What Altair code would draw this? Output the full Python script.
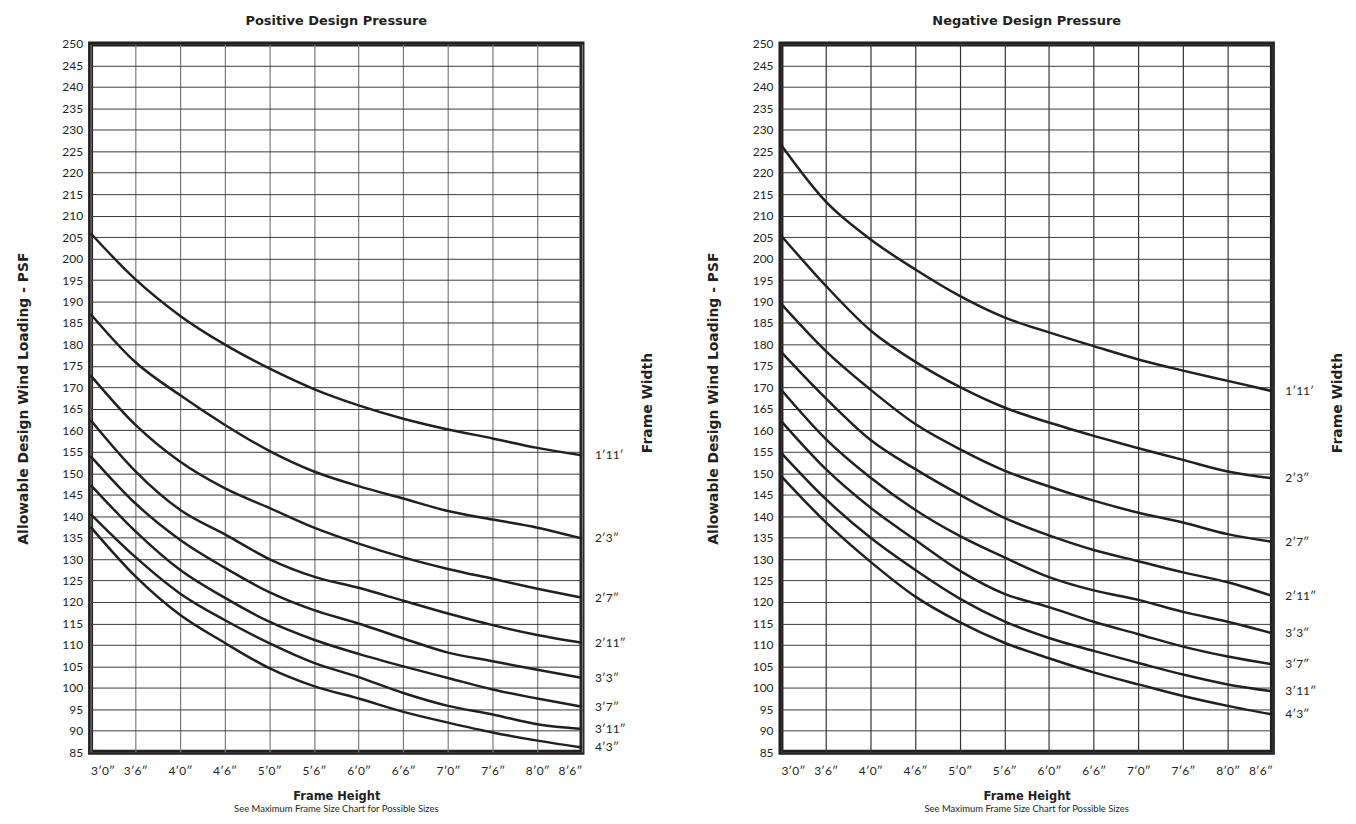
import altair as alt
import pandas as pd

# ---------------- data ----------------
heights_in = [36, 42, 48, 54, 60, 66, 72, 78, 84, 90, 96, 102]  # frame height in inches (3'0" .. 8'6")
width_labels = ["1′11′", "2′3″", "2′7″", "2′11″", "3′3″", "3′7″", "3′11″", "4′3″"]

# Positive design pressure (PSF) per frame width
pos_1 = [205.9, 195.2, 186.7, 180.0, 174.4, 169.6, 165.8, 162.7, 160.2, 158.1, 155.9, 154.2]
pos_2 = [187.1, 175.9, 168.2, 161.3, 155.2, 150.4, 147.0, 144.1, 141.2, 139.2, 137.3, 134.8]
pos_3 = [172.8, 161.3, 152.7, 146.5, 141.9, 137.3, 133.6, 130.4, 127.7, 125.4, 123.1, 121.0]
pos_4 = [162.4, 150.5, 141.5, 135.8, 130.0, 125.9, 123.3, 120.3, 117.3, 114.6, 112.3, 110.5]
pos_5 = [154.0, 143.0, 134.5, 128.0, 122.3, 118.1, 115.0, 111.5, 108.2, 106.2, 104.2, 102.3]
pos_6 = [147.3, 136.5, 127.5, 121.0, 115.4, 111.2, 107.9, 105.0, 102.3, 99.6, 97.5, 95.6]
pos_7 = [140.5, 130.5, 122.0, 115.8, 110.4, 105.8, 102.5, 98.8, 95.8, 93.8, 91.5, 90.4]
pos_8 = [137.5, 126.0, 117.0, 110.5, 104.6, 100.4, 97.5, 94.4, 91.9, 89.6, 87.7, 86.1]

# Negative design pressure (PSF) per frame width
neg_1 = [226.5, 213.3, 204.5, 197.5, 191.3, 186.3, 182.8, 179.6, 176.5, 173.9, 171.5, 169.1]
neg_2 = [205.4, 193.7, 183.3, 176.0, 170.1, 165.3, 161.8, 158.7, 155.8, 153.1, 150.4, 148.8]
neg_3 = [189.5, 178.5, 169.5, 161.5, 155.6, 150.6, 146.9, 143.6, 140.8, 138.5, 135.8, 134.0]
neg_4 = [178.3, 167.5, 157.8, 151.0, 145.0, 139.6, 135.5, 132.1, 129.5, 126.9, 124.6, 121.4]
neg_5 = [169.5, 158.0, 149.0, 141.5, 135.4, 130.4, 125.8, 122.7, 120.5, 117.7, 115.4, 112.7]
neg_6 = [162.2, 151.0, 142.0, 134.5, 127.3, 121.9, 118.8, 115.4, 112.5, 109.6, 107.3, 105.5]
neg_7 = [154.8, 144.0, 135.0, 127.5, 120.8, 115.5, 111.6, 108.6, 105.8, 103.1, 100.8, 99.2]
neg_8 = [149.4, 138.6, 129.4, 121.3, 115.3, 110.5, 106.9, 103.6, 100.8, 98.1, 95.8, 93.8]

y_ticks = list(range(85, 251, 5))

positive = [pos_1, pos_2, pos_3, pos_4, pos_5, pos_6, pos_7, pos_8]
negative = [neg_1, neg_2, neg_3, neg_4, neg_5, neg_6, neg_7, neg_8]

# ---------------- style ----------------
INK = "#231f20"
FONT = "Lato"
BOLD = "DejaVu Sans"
W, H = 494, 712


def panel(series, title, vgrid_color):
    rows = []
    for lab, vals in zip(width_labels, series):
        for h, v in zip(heights_in, vals):
            rows.append({"height": h, "psf": v, "width": lab})
    df = pd.DataFrame(rows)
    end = df[df["height"] == heights_in[-1]]

    xscale = alt.Scale(domain=[heights_in[0], heights_in[-1]], nice=False, zero=False)
    yscale = alt.Scale(domain=[85, 250], nice=False, zero=False)

    x = alt.X(
        "height:Q",
        scale=xscale,
        axis=alt.Axis(
            values=heights_in,
            labelExpr="floor(datum.value / 12) + '′' + (datum.value % 12) + '″'",
            title="Frame Height",
            grid=True,
            gridColor=vgrid_color,
            gridWidth=1.2,
            ticks=False,
            domain=False,
            labelOverlap=False,
            labelFont=FONT,
            labelFontSize=12,
            labelColor=INK,
            labelPadding=13,
            titlePadding=15,
            titleFont=BOLD,
            titleFontSize=11.5,
            titleFontWeight="bold",
            titleColor=INK,
        ),
    )
    y = alt.Y(
        "psf:Q",
        scale=yscale,
        axis=alt.Axis(
            values=y_ticks,
            title="Allowable Design Wind Loading - PSF",
            grid=True,
            gridColor="#3a3a3a",
            gridWidth=1,
            ticks=False,
            domain=False,
            labelOverlap=False,
            labelFont=FONT,
            labelFontSize=12,
            labelColor=INK,
            labelPadding=8,
            titlePadding=32,
            titleFont=BOLD,
            titleFontSize=14,
            titleFontWeight="bold",
            titleColor=INK,
        ),
    )

    lines = (
        alt.Chart(df)
        .mark_line(interpolate="monotone", color=INK, strokeWidth=2.5)
        .encode(x=x, y=y, detail="width:N")
    )
    labels = (
        alt.Chart(end)
        .mark_text(align="left", baseline="middle", dx=13, fontSize=12, font=FONT, color=INK)
        .encode(x=x, y=y, text="width:N")
    )
    fw = (
        alt.Chart(pd.DataFrame({"t": ["Frame Width"]}))
        .mark_text(angle=270, fontWeight="bold", fontSize=14, font=BOLD, color=INK,
                   align="center", baseline="middle")
        .encode(x=alt.value(W + 66), y=alt.value(H / 2 + 5), text="t:N")
    )
    sub = (
        alt.Chart(pd.DataFrame({"t": ["See Maximum Frame Size Chart for Possible Sizes"]}))
        .mark_text(fontSize=9.5, font=FONT, color=INK, align="center", baseline="middle")
        .encode(x=alt.value(W / 2), y=alt.value(H + 57), text="t:N")
    )
    return alt.layer(lines, labels, fw, sub).properties(
        width=W,
        height=H,
        view=alt.ViewBackground(stroke=INK, strokeWidth=5),
        title=alt.TitleParams(title, fontSize=13, fontWeight="bold", font=BOLD, color=INK, offset=10),
    )


chart = (
    alt.hconcat(
        panel(positive, "Positive Design Pressure", "#7a7a7a"),
        panel(negative, "Negative Design Pressure", "#333333"),
        spacing=46,
    )
    .properties(padding={"left": 5, "top": 2, "right": 0, "bottom": 0}, background="white")
    .configure_view(stroke=INK, strokeWidth=5)
)

chart.save("out.html", embed_options={"renderer": "svg", "actions": False})
